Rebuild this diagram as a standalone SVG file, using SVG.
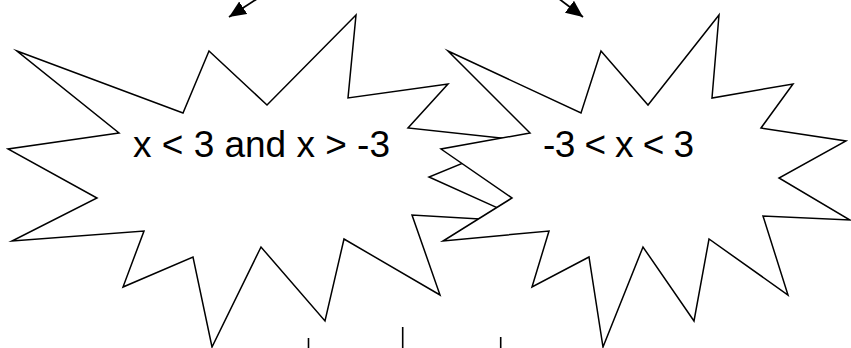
<svg xmlns="http://www.w3.org/2000/svg" width="851" height="348" viewBox="0 0 851 348">
<defs>
<style>
.burst{fill:#fff;stroke:#000;stroke-width:1.5;stroke-linejoin:miter;stroke-miterlimit:20}
.lbl{font-family:"Liberation Sans",Arial,sans-serif;font-size:37px;fill:#000}
.conn{stroke:#000;stroke-width:1.8;fill:none}
.tick{stroke:#000;stroke-width:1.6}
</style>
<marker id="ah" markerUnits="userSpaceOnUse" markerWidth="18" markerHeight="16" refX="17" refY="7.5" orient="auto">
<path d="M0,0 L17,7.5 L0,15 z" fill="#000"/>
</marker>
</defs>
<g id="node-left">
<polygon class="burst" points="17,51 183,113 209,51 267,105 356,15 348,98 448,84 408,128 519,140 429,177 529,222 412,215 440,295 344,239 325,321 261,247 212,347 193,257 123,287 144,231 12,241 97,198 8,149 119,133"/>
<text class="lbl" x="133" y="157" textLength="257" lengthAdjust="spacing">x &lt; 3 and x &gt; -3</text>
</g>
<g id="node-right">
<polygon class="burst" points="448,51 581,113 601,51 648,105 719,15 712,98 793,84 761,128 846,141 779,178 850,220 763,216 788,295 709,239 694,321 643,247 603,347 589,257 532,287 549,231 443,241 512,198 441,149 530,133"/>
<text class="lbl" x="543" y="157" textLength="151" lengthAdjust="spacing">-3 &lt; x &lt; 3</text>
</g>
<g id="connectors">
<line class="conn" x1="263" y1="-5" x2="229" y2="17" marker-end="url(#ah)"/>
<line class="conn" x1="554" y1="-5" x2="583" y2="17" marker-end="url(#ah)"/>
<line class="tick" x1="308.5" y1="338" x2="308.5" y2="348"/>
<line class="tick" x1="402.7" y1="327" x2="402.7" y2="348"/>
<line class="tick" x1="500.7" y1="337" x2="500.7" y2="348"/>
</g>
</svg>
